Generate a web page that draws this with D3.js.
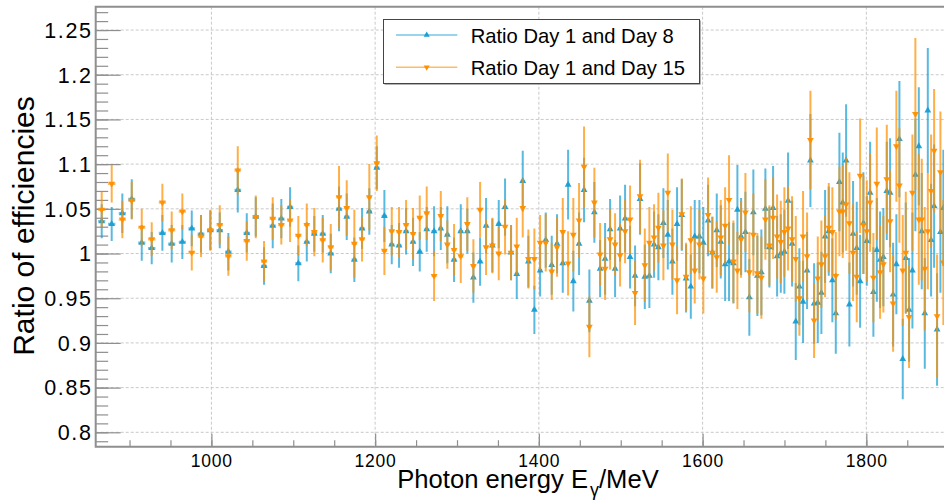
<!DOCTYPE html>
<html><head><meta charset="utf-8">
<script src="https://cdn.jsdelivr.net/npm/d3@7"></script>
<style>
body{margin:0;background:#fff}
svg{display:block}
text{font-family:"Liberation Sans",Arial,Helvetica,sans-serif;fill:#000}
</style>
</head><body>
<svg id="chart" width="944" height="501"></svg>
<script>
// ---------------- data ----------------
const energies = [866.0,878.2,891.2,902.7,914.9,927.1,940.1,951.5,964.5,976.0,
987.3,998.7,1010.2,1020.7,1032.2,1043.2,1054.2,1064.3,1074.9,1085.4,
1096.1,1106.2,1116.5,1125.7,1136.0,1145.8,1155.9,1165.3,1174.6,1184.0,
1192.9,1202.0,1211.3,1220.3,1229.2,1237.8,1246.3,1254.5,1263.0,1272.0,
1280.2,1288.2,1296.4,1304.6,1312.6,1320.0,1328.2,1335.5,1343.2,1351.0,
1358.7,1366.0,1373.0,1380.3,1387.2,1394.5,1401.5,1408.4,1415.7,1422.2,
1429.2,1435.7,1442.1,1449.1,1455.2,1461.7,1467.8,1474.8,1480.9,1487.0,
1493.1,1499.2,1505.3,1511.4,1517.5,1523.6,1529.4,1535.0,1540.7,1546.0,
1552.1,1557.5,1563.1,1568.8,1574.6,1579.8,1585.6,1590.4,1596.1,1600.9,
1606.7,1611.9,1617.3,1622.2,1627.5,1632.3,1637.6,1642.5,1647.0,1652.3,
1657.1,1662.0,1666.9,1671.8,1676.7,1681.6,1686.1,1691.0,1695.5,1699.9,
1704.4,1709.3,1713.8,1718.2,1722.7,1727.6,1731.7,1736.2,1740.7,1745.1,
1749.6,1754.1,1758.5,1762.7,1767.1,1771.2,1775.3,1779.3,1783.8,1788.3,
1792.4,1796.4,1800.6,1804.6,1808.6,1812.8,1816.8,1820.8,1825.0,1829.0,
1832.7,1836.7,1840.4,1844.5,1848.2,1852.2,1856.3,1859.9,1864.1,1867.7,
1871.4,1875.1,1879.1,1882.8,1886.4,1890.5,1894.1];

const ratioDay8 = [1.036,1.033,1.045,1.061,1.012,1.006,1.023,1.011,1.013,1.028,
1.022,1.026,1.026,1.002,1.071,1.023,1.041,0.986,1.031,1.039,
1.052,0.989,1.013,1.022,1.022,1.000,1.050,1.041,0.993,1.028,
1.047,1.096,1.042,1.010,1.009,1.025,1.013,1.002,1.027,1.025,
1.028,1.021,0.993,1.025,1.025,0.973,0.991,1.031,1.009,1.033,
1.052,1.001,0.977,1.081,0.991,0.937,0.981,1.015,0.987,1.011,
0.989,1.077,0.969,1.011,1.071,0.947,1.046,0.983,0.994,1.027,
0.983,1.028,1.039,0.996,0.975,1.061,0.974,0.975,1.010,1.007,
1.034,1.021,0.991,1.033,1.043,0.972,0.963,1.019,1.019,1.012,
1.037,1.001,1.026,1.013,0.988,0.991,0.989,1.049,1.019,1.024,
0.951,1.046,0.975,0.979,1.050,1.007,1.051,0.997,1.000,1.002,
1.059,1.011,0.924,0.963,0.946,0.981,1.104,0.944,0.945,0.956,
1.019,1.025,0.970,0.933,1.080,1.057,1.104,0.943,1.022,1.006,
0.969,1.034,1.014,1.068,0.957,1.004,0.993,0.996,1.070,1.068,
0.954,0.988,1.128,0.882,0.995,0.937,0.981,1.088,1.120,1.025,
0.933,1.160,1.015,1.053,0.915,1.024,1.051];

const errDay8 = [0.019,0.019,0.022,0.022,0.020,0.018,0.020,0.021,0.019,0.020,
0.021,0.022,0.020,0.021,0.025,0.022,0.022,0.021,0.025,0.022,
0.022,0.020,0.022,0.020,0.021,0.022,0.025,0.026,0.025,0.023,
0.026,0.024,0.029,0.022,0.025,0.026,0.027,0.022,0.025,0.028,
0.024,0.032,0.025,0.030,0.025,0.028,0.027,0.031,0.030,0.027,
0.032,0.031,0.028,0.034,0.029,0.027,0.029,0.031,0.033,0.033,
0.033,0.039,0.034,0.035,0.036,0.035,0.034,0.032,0.040,0.034,
0.032,0.037,0.038,0.035,0.034,0.040,0.036,0.036,0.037,0.037,
0.039,0.039,0.037,0.041,0.040,0.038,0.036,0.041,0.041,0.040,
0.040,0.040,0.041,0.041,0.041,0.044,0.045,0.050,0.043,0.045,
0.043,0.048,0.045,0.048,0.045,0.045,0.047,0.045,0.044,0.047,
0.054,0.048,0.043,0.043,0.046,0.043,0.052,0.045,0.045,0.046,
0.052,0.050,0.047,0.045,0.055,0.056,0.063,0.047,0.059,0.052,
0.052,0.057,0.050,0.057,0.050,0.058,0.054,0.055,0.055,0.061,
0.058,0.056,0.065,0.045,0.062,0.058,0.065,0.063,0.066,0.065,
0.062,0.070,0.063,0.069,0.063,0.068,0.065];

const ratioDay15 = [1.049,1.078,1.038,1.059,1.029,1.016,1.057,1.026,1.047,1.001,
1.019,1.026,1.032,0.997,1.093,1.014,1.041,0.991,1.039,1.032,
1.037,1.020,1.032,1.024,1.015,1.007,1.063,1.051,1.011,1.016,
1.063,1.101,1.003,1.025,1.024,1.032,1.022,1.040,1.045,0.975,
1.042,1.010,1.004,0.997,1.033,0.986,1.049,1.007,1.009,1.000,
1.030,1.001,1.008,1.051,0.994,0.994,1.012,1.012,0.980,1.007,
1.024,0.989,1.021,1.037,1.097,0.918,1.057,0.999,0.983,1.016,
1.010,0.998,1.025,1.038,0.956,1.064,0.987,1.012,1.018,1.029,
1.009,1.068,1.010,0.970,1.044,0.974,1.015,0.981,1.010,0.972,
1.043,1.001,0.996,1.018,1.031,1.060,0.991,0.981,1.016,1.046,
0.979,1.021,0.978,0.973,1.038,1.009,1.040,1.019,1.013,1.024,
1.028,1.016,0.994,0.950,1.019,0.997,1.127,0.925,0.972,0.988,
0.997,1.029,1.024,0.975,1.047,1.047,1.055,1.034,1.001,0.974,
1.087,1.032,1.025,1.057,0.973,1.078,0.979,0.988,1.083,1.036,
0.944,1.120,1.076,0.981,1.001,0.929,1.068,1.156,1.038,1.038,
0.983,1.025,1.070,1.115,0.930,1.091,0.990];

const errDay15 = [0.020,0.021,0.021,0.021,0.021,0.019,0.021,0.021,0.020,0.020,
0.023,0.023,0.022,0.022,0.027,0.022,0.024,0.023,0.024,0.022,
0.024,0.022,0.024,0.027,0.025,0.026,0.035,0.031,0.038,0.025,
0.037,0.031,0.027,0.027,0.028,0.028,0.029,0.025,0.030,0.028,
0.028,0.027,0.029,0.030,0.030,0.030,0.031,0.031,0.031,0.030,
0.031,0.031,0.032,0.033,0.033,0.034,0.031,0.032,0.032,0.033,
0.038,0.036,0.041,0.042,0.045,0.034,0.039,0.035,0.035,0.034,
0.035,0.035,0.036,0.038,0.036,0.041,0.041,0.040,0.037,0.039,
0.039,0.044,0.039,0.038,0.040,0.038,0.038,0.037,0.039,0.039,
0.042,0.040,0.040,0.042,0.043,0.050,0.046,0.043,0.043,0.044,
0.045,0.046,0.045,0.046,0.045,0.045,0.046,0.047,0.046,0.050,
0.047,0.048,0.048,0.042,0.051,0.049,0.055,0.042,0.047,0.049,
0.046,0.050,0.050,0.049,0.050,0.052,0.052,0.057,0.054,0.051,
0.064,0.055,0.057,0.055,0.050,0.063,0.052,0.054,0.061,0.057,
0.054,0.062,0.064,0.062,0.068,0.057,0.065,0.085,0.073,0.068,
0.069,0.065,0.063,0.069,0.069,0.068,0.070];

const seriesNames = ["Ratio Day 1 and Day 8", "Ratio Day 1 and Day 15"];
const xTickValues = [1000, 1200, 1400, 1600, 1800];
const xTickLabels = ["1000", "1200", "1400", "1600", "1800"];
const yTickValues = [0.8, 0.85, 0.9, 0.95, 1.0, 1.05, 1.1, 1.15, 1.2, 1.25];
const yTickLabels = ["0.8", "0.85", "0.9", "0.95", "1", "1.05", "1.1", "1.15", "1.2", "1.25"];
const yTitle = "Ratio of efficiencies";
const xTitleMain = "Photon energy E", xTitleSub = "\u03b3", xTitleUnit = "/MeV";

// ---------------- layout ----------------
const frame = {left: 95.7, top: 6.7, bottom: 446.7, right: 948.2};
const xDomain = [858.66, 1900];
const yDomain = [0.7839, 1.2761];
const colors = {
  day8: "#1b9ed3",
  day15: "#ff9000"
};
const gray = "#8f8f8f";

const svg = d3.select("#chart");
const x = d3.scaleLinear().domain(xDomain).range([frame.left, frame.right]);
const y = d3.scaleLinear().domain(yDomain).range([frame.bottom, frame.top]);

svg.append("defs").append("clipPath").attr("id", "clip")
  .append("rect").attr("x", frame.left).attr("y", frame.top)
  .attr("width", 944 - frame.left).attr("height", frame.bottom - frame.top);

// grid
const grid = svg.append("g").attr("stroke", "#c9c9c9").attr("stroke-width", 1)
  .attr("stroke-dasharray", "3,2").attr("fill", "none");
grid.selectAll(".gx").data(xTickValues).join("line")
  .attr("x1", d => x(d)).attr("x2", d => x(d))
  .attr("y1", frame.top).attr("y2", frame.bottom);
grid.selectAll(".gy").data(yTickValues).join("line")
  .attr("x1", frame.left).attr("x2", 944)
  .attr("y1", d => y(d)).attr("y2", d => y(d));

// axes (ROOT style: ticks inside the frame)
const yMinor = d3.range(0.79, 1.275, 0.01).map(v => +v.toFixed(2));
const xMinor = d3.range(900, 1901, 50);

function styleAxis(g) {
  g.select(".domain").remove();
  g.selectAll(".tick line").attr("stroke", gray).attr("stroke-width", 1.2);
  g.selectAll(".tick text").remove();
}
svg.append("g").attr("transform", `translate(${frame.left},0)`)
  .call(d3.axisRight(y).tickValues(yMinor).tickSize(12.5)).call(styleAxis);
svg.append("g").attr("transform", `translate(${frame.left},0)`)
  .call(d3.axisRight(y).tickValues(yTickValues).tickSize(25)).call(styleAxis);
svg.append("g").attr("transform", `translate(0,${frame.bottom})`)
  .call(d3.axisTop(x).tickValues(xMinor).tickSize(6.5)).call(styleAxis);
svg.append("g").attr("transform", `translate(0,${frame.bottom})`)
  .call(d3.axisTop(x).tickValues(xTickValues).tickSize(13)).call(styleAxis);

// frame lines
svg.append("path").attr("fill", "none").attr("stroke", gray).attr("stroke-width", 2)
  .attr("d", `M944,${frame.top}H${frame.left}V${frame.bottom}H944`);

// tick labels
svg.append("g").selectAll("text").data(yTickValues).join("text")
  .attr("x", 92.5).attr("y", d => y(d) + 7.8)
  .attr("text-anchor", "end").attr("font-size", 21.5).attr("letter-spacing", 1.6)
  .text((d, i) => yTickLabels[i]);
svg.append("g").selectAll("text").data(xTickValues).join("text")
  .attr("x", d => x(d) + 0.4).attr("y", 467)
  .attr("text-anchor", "middle").attr("font-size", 17.5).attr("letter-spacing", 0.8)
  .text((d, i) => xTickLabels[i]);

// axis titles
svg.append("text").attr("transform", "translate(33.5,226) rotate(-90)")
  .attr("text-anchor", "middle").attr("font-size", 30).text(yTitle);
const xt = svg.append("text").attr("x", 397.3).attr("y", 487.5).attr("font-size", 25.6);
xt.append("tspan").text(xTitleMain);
xt.append("tspan").attr("font-size", 18).attr("dy", 8).attr("dx", 2).text(xTitleSub);
xt.append("tspan").attr("dy", -8).text(xTitleUnit);

// ---------------- series ----------------
const n = energies.length;
function halfWidth(i) {
  const a = i > 0 ? x(energies[i]) - x(energies[i - 1]) : x(energies[1]) - x(energies[0]);
  const b = i < n - 1 ? x(energies[i + 1]) - x(energies[i]) : a;
  return 0.36 * (a + b) / 2;
}
const series = [
  {name: seriesNames[0], vals: ratioDay8, errs: errDay8, color: colors.day8, rot: 0},
  {name: seriesNames[1], vals: ratioDay15, errs: errDay15, color: colors.day15, rot: 180}
];
const plot = svg.append("g").attr("clip-path", "url(#clip)");
const tri = d3.symbol(d3.symbolTriangle, 20);

series.forEach(s => {
  const g = plot.append("g");
  const pts = energies.map((e, i) => ({e, v: s.vals[i], err: s.errs[i], i}));
  g.selectAll(".ev").data(pts).join("line")
    .attr("x1", d => x(d.e)).attr("x2", d => x(d.e))
    .attr("y1", d => y(d.v - d.err)).attr("y2", d => y(d.v + d.err))
    .attr("stroke", s.color).attr("stroke-opacity", 0.72).attr("stroke-width", 2);
  g.selectAll(".eh").data(pts).join("line")
    .attr("x1", d => x(d.e) - halfWidth(d.i)).attr("x2", d => x(d.e) + halfWidth(d.i))
    .attr("y1", d => y(d.v)).attr("y2", d => y(d.v))
    .attr("stroke", s.color).attr("stroke-opacity", 0.6).attr("stroke-width", 2.5);
  g.selectAll(".mk").data(pts).join("path")
    .attr("d", tri)
    .attr("transform", d => `translate(${x(d.e)},${y(d.v)}) rotate(${s.rot})`)
    .attr("fill", s.color).attr("fill-opacity", 0.95);
});

// ---------------- legend ----------------
const lg = svg.append("g");
lg.append("rect").attr("x", 384.5).attr("y", 20.5).attr("width", 316).attr("height", 64)
  .attr("fill", "#666");
lg.append("rect").attr("x", 383.5).attr("y", 19.5).attr("width", 316).attr("height", 64)
  .attr("fill", "#fff").attr("stroke", "#444").attr("stroke-width", 1);
const legendRows = [35, 67.3];
series.forEach((s, i) => {
  const yy = legendRows[i];
  lg.append("line").attr("x1", 396).attr("x2", 457.3).attr("y1", yy).attr("y2", yy)
    .attr("stroke", s.color).attr("stroke-opacity", 0.6).attr("stroke-width", 1.6);
  lg.append("path").attr("d", d3.symbol(d3.symbolTriangle, 16))
    .attr("transform", `translate(426.7,${yy}) rotate(${s.rot})`)
    .attr("fill", s.color);
  lg.append("text").attr("x", 470.7).attr("y", yy + 7.5).attr("font-size", 20.2).text(s.name);
});
</script>
</body></html>
